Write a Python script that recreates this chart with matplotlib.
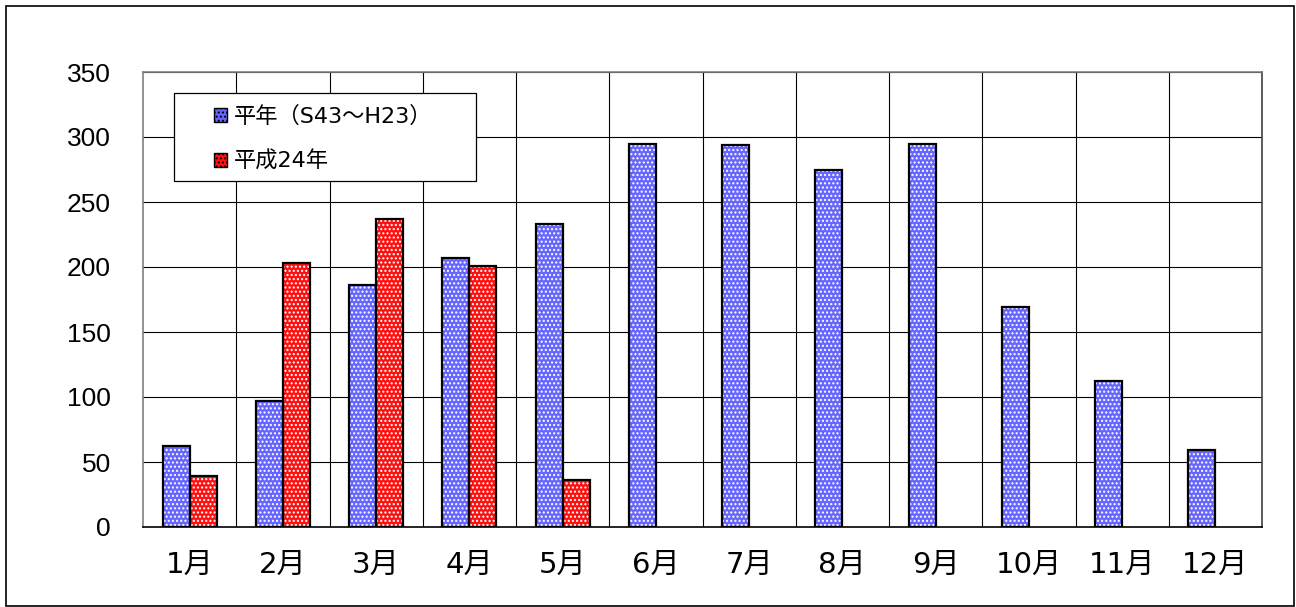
import matplotlib
matplotlib.use("Agg")
import matplotlib.pyplot as plt
from matplotlib.patches import Patch, Rectangle
import numpy as np

plt.rcParams['font.family'] = ['DejaVu Sans', 'Noto Sans CJK JP']
plt.rcParams['hatch.linewidth'] = 1.0

months = ['1月', '2月', '3月', '4月', '5月', '6月', '7月', '8月', '9月', '10月', '11月', '12月']
normal = [62, 97, 186, 207, 233, 295, 294, 275, 295, 169, 112, 59]
h24 = [39, 203, 237, 201, 36, None, None, None, None, None, None, None]
series_names = ['平年（S43～H23）', '平成24年']

blue = '#6666ff'
red = '#ff1010'

fig = plt.figure(figsize=(12.96, 6.07), dpi=100)
ax = fig.add_axes([143/1296, 1-527/607, 1119/1296, 455/607])

x = np.arange(len(months))
w = 0.29

def draw(xs, vals, color):
    xs = np.array(xs); vals = np.array(vals, dtype=float)
    ax.bar(xs, vals, width=w, color=color, hatch='....', edgecolor='white',
           linewidth=0, zorder=3)
    ax.bar(xs, vals, width=w, facecolor='none', edgecolor='black',
           linewidth=1.6, zorder=4)

draw(x - w/2, normal, blue)
idx = [i for i, v in enumerate(h24) if v is not None]
draw(x[idx] + w/2, [h24[i] for i in idx], red)

ax.set_xlim(-0.5, 11.5)
ax.set_ylim(0, 350)
ax.set_yticks(range(0, 351, 50))
ax.set_xticks(x)
ax.set_xticklabels(months, fontsize=21)
ax.tick_params(axis='y', length=0, pad=23, labelsize=19)
ax.tick_params(axis='x', length=0, pad=17)
for lab in ax.get_yticklabels():
    lab.set_family(['Liberation Sans', 'DejaVu Sans'])

for yv in range(50, 351, 50):
    ax.axhline(yv, color='black', linewidth=0.8, zorder=1)
for xv in np.arange(0.5, 11.5, 1):
    ax.axvline(xv, color='black', linewidth=0.8, zorder=1)

ax.spines['top'].set_color('#808080')
ax.spines['left'].set_color('#808080')
ax.spines['right'].set_color('#404040')
ax.spines['bottom'].set_color('black')
for s in ax.spines.values():
    s.set_linewidth(1.2)

# legend box
ax.add_patch(Rectangle((31/1119, (527-181)/455), 302/1119, 88/455, transform=ax.transAxes,
                       facecolor='white', edgecolor='black', linewidth=0.9, zorder=9))
handles = [Patch(facecolor=blue, edgecolor='black', hatch='....'),
           Patch(facecolor=red, edgecolor='black', hatch='....')]
leg = ax.legend(handles, series_names, loc='upper left',
                bbox_to_anchor=((214-143)/1119, (527-106)/455),
                borderaxespad=0, borderpad=0, frameon=False,
                fontsize=16, handlelength=0.6, handleheight=0.6,
                handletextpad=0.3, labelspacing=1.05)
leg.set_zorder(10)

fig.patches.append(Rectangle((6/1296, 1-606/607), 1-8/1296, 1-7/607, transform=fig.transFigure,
                             fill=False, edgecolor='black', linewidth=1.2))

fig.savefig('out.png', dpi=100)
